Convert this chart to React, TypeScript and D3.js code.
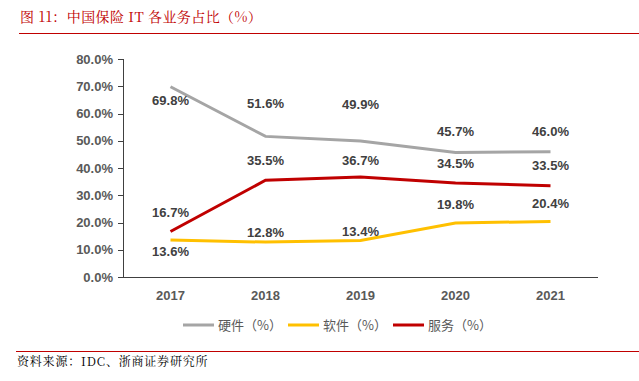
import React from "react";
import * as d3 from "d3";

const years = ["2017", "2018", "2019", "2020", "2021"];
const hardware = [69.8, 51.6, 49.9, 45.7, 46.0];
const software = [13.6, 12.8, 13.4, 19.8, 20.4];
const service = [16.7, 35.5, 36.7, 34.5, 33.5];
const seriesNames = ["硬件（%）", "软件（%）", "服务（%）"];
const yTicks = [0, 10, 20, 30, 40, 50, 60, 70, 80];
// label vertical offsets (px) relative to points
const hardwareLabelDy = [14, -33, -37, -21, -20];
const softwareLabelDy = [12, -10, -9, -19, -18];
const serviceLabelDy = [-19, -20, -17, -20, -20];

const colors = ["#a5a5a5", "#ffc000", "#c00000"];

export default function App() {
  const W = 639, H = 381;
  const x = d3.scaleBand().domain(years).range([123, 598]);
  const y = d3.scaleLinear().domain([0, 80]).range([277, 59]);
  const cx = (d: string) => (x(d) as number) + x.bandwidth() / 2;
  const line = d3.line<number>().x((_, i) => cx(years[i])).y((v) => y(v));
  const series = [
    { values: hardware, dy: hardwareLabelDy },
    { values: software, dy: softwareLabelDy },
    { values: service, dy: serviceLabelDy },
  ];
  const legendX = [183, 288, 393];
  const numFont = "Liberation Sans, Arial, sans-serif";
  return (
    <svg width={W} height={H} style={{ position: "absolute", left: 0, top: 0, background: "#fff" }}>
      <text x={20} y={22} fill="#c00000" fontSize={14} letterSpacing={0.4} fontFamily="'Noto Serif CJK SC', 'Noto Sans CJK SC', serif">
        图 11：中国保险 IT 各业务占比（%）
      </text>
      <line x1={19} x2={639} y1={33.5} y2={33.5} stroke="#c00000" strokeWidth={1} />
      {/* y axis */}
      <line x1={123.5} x2={123.5} y1={59} y2={277} stroke="#404040" strokeWidth={1} />
      {yTicks.map((t) => (
        <g key={t}>
          <line x1={118} x2={123.5} y1={Math.round(y(t)) + 0.5} y2={Math.round(y(t)) + 0.5} stroke="#404040" />
          <text x={113} y={y(t)} dy="0.35em" textAnchor="end" fontSize={13} fontWeight="bold" fill="#595959" fontFamily={numFont}>
            {t.toFixed(1)}%
          </text>
        </g>
      ))}
      {/* x axis */}
      <line x1={123} x2={598} y1={277.5} y2={277.5} stroke="#404040" strokeWidth={1} />
      {years.map((yr) => (
        <text key={yr} x={cx(yr)} y={295} dy="0.35em" textAnchor="middle" fontSize={13} fontWeight="bold" fill="#595959" fontFamily={numFont}>
          {yr}
        </text>
      ))}
      {series.map((s, si) => (
        <g key={si}>
          <path d={line(s.values) as string} fill="none" stroke={colors[si]} strokeWidth={3} />
          {s.values.map((v, i) => (
            <text key={i} x={cx(years[i])} y={y(v) + s.dy[i]} dy="0.35em" textAnchor="middle" fontSize={13} fontWeight="bold" fill="#404040" fontFamily={numFont}>
              {v.toFixed(1)}%
            </text>
          ))}
        </g>
      ))}
      {/* legend */}
      {seriesNames.map((n, i) => (
        <g key={n}>
          <line x1={legendX[i]} x2={legendX[i] + 31} y1={325} y2={325} stroke={colors[i]} strokeWidth={3} />
          <text x={legendX[i] + 35} y={325} dy="0.35em" fontSize={13} fill="#595959" fontFamily="'Noto Sans CJK SC', sans-serif">
            {n}
          </text>
        </g>
      ))}
      <line x1={16} x2={639} y1={351.5} y2={351.5} stroke="#c00000" strokeWidth={1} />
      <text x={17} y={366} fontSize={12} letterSpacing={0.8} fill="#000" fontFamily="'Noto Serif CJK SC', 'Noto Sans CJK SC', serif">
        资料来源：IDC、浙商证券研究所
      </text>
    </svg>
  );
}
